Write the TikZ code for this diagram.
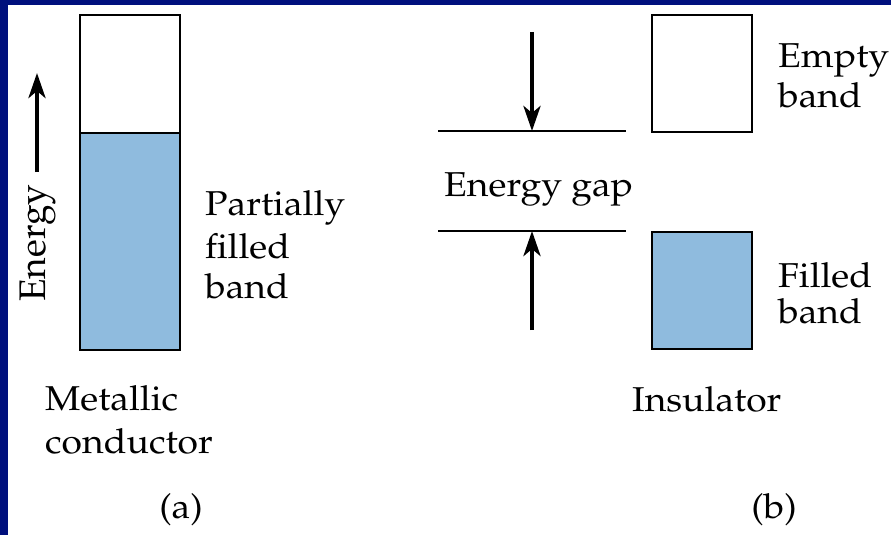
\documentclass[tikz,border=0pt]{standalone}
\IfFileExists{mathpazo.sty}{%
  \usepackage[T1]{fontenc}\usepackage{mathpazo}\newcommand{\wscale}{1.08}}{%
  \usepackage{fontspec}\setmainfont{Liberation Serif}\newcommand{\wscale}{1.10}}
\usepackage{graphicx}
\usetikzlibrary{arrows.meta}
\definecolor{navy}{RGB}{0,16,125}
\definecolor{bandblue}{RGB}{143,187,222}
\newcommand{\wtxt}[1]{\scalebox{\wscale}[1]{#1}}
\tikzset{
  txt/.style={inner sep=0pt, anchor=base west, font=\fontsize{34.5}{40}\selectfont},
  bandbox/.style={draw=black, line width=1.8pt, inner sep=0pt, minimum width=100pt, anchor=north west},
  level/.style={line width=1.8pt},
  bigarrow/.style={line width=4.2pt, -{Stealth[length=25pt,width=17pt,inset=7pt]}}
}
\begin{document}
\begin{tikzpicture}[x=1pt,y=-1pt]
\useasboundingbox (0,0) rectangle (891,535);
\fill[white] (0,0) rectangle (891,535);
\fill[navy] (0,0) rectangle (8,535);
\fill[navy] (0,0) rectangle (891,5);

% (a) metallic conductor
\node[bandbox, fill=white, minimum height=118pt] (mtop) at (79,14) {};
\node[bandbox, fill=bandblue, minimum height=217pt] (mbot) at (79,132) {};
\coordinate (estart) at (37,172);
\coordinate (eend) at (37,73);
\draw[bigarrow] (estart) -- (eend);
\node[inner sep=0pt, rotate=90, anchor=base west, font=\fontsize{37}{40}\selectfont] (elabel) at (45,302) {Energy};
\node[txt] (pa1) at (205,215) {\wtxt{Partially}};
\node[txt] (pa2) at (205,258) {\wtxt{filled}};
\node[txt] (pa3) at (205,298) {\wtxt{band}};
\node[txt] (me1) at (45,410) {\wtxt{Metallic}};
\node[txt] (me2) at (45,453) {\wtxt{conductor}};
\node[txt, anchor=base] (la) at (181,518) {\wtxt{(a)}};

% (b) insulator
\coordinate (g1l) at (438,131);
\coordinate (g1r) at (626,131);
\coordinate (g2l) at (438,231);
\coordinate (g2r) at (626,231);
\draw[level] (g1l) -- (g1r);
\draw[level] (g2l) -- (g2r);
\coordinate (dstart) at (532,32);
\coordinate (dend) at (532,131);
\coordinate (ustart) at (532,330);
\coordinate (uend) at (532,231);
\draw[bigarrow] (dstart) -- (dend);
\draw[bigarrow] (ustart) -- (uend);
\node[txt] (gap) at (444,196) {\wtxt{Energy gap}};
\node[bandbox, fill=white, minimum height=117pt] (itop) at (651,14) {};
\node[bandbox, fill=bandblue, minimum height=117pt] (ibot) at (651,231) {};
\node[txt] (em1) at (778,67) {\wtxt{Empty}};
\node[txt] (em2) at (778,107) {\wtxt{band}};
\node[txt] (fi1) at (778,287) {\wtxt{Filled}};
\node[txt] (fi2) at (778,323) {\wtxt{band}};
\node[txt] (ins) at (632,411) {\wtxt{Insulator}};
\node[txt, anchor=base] (lb) at (774,518) {\wtxt{(b)}};
\end{tikzpicture}
\end{document}
